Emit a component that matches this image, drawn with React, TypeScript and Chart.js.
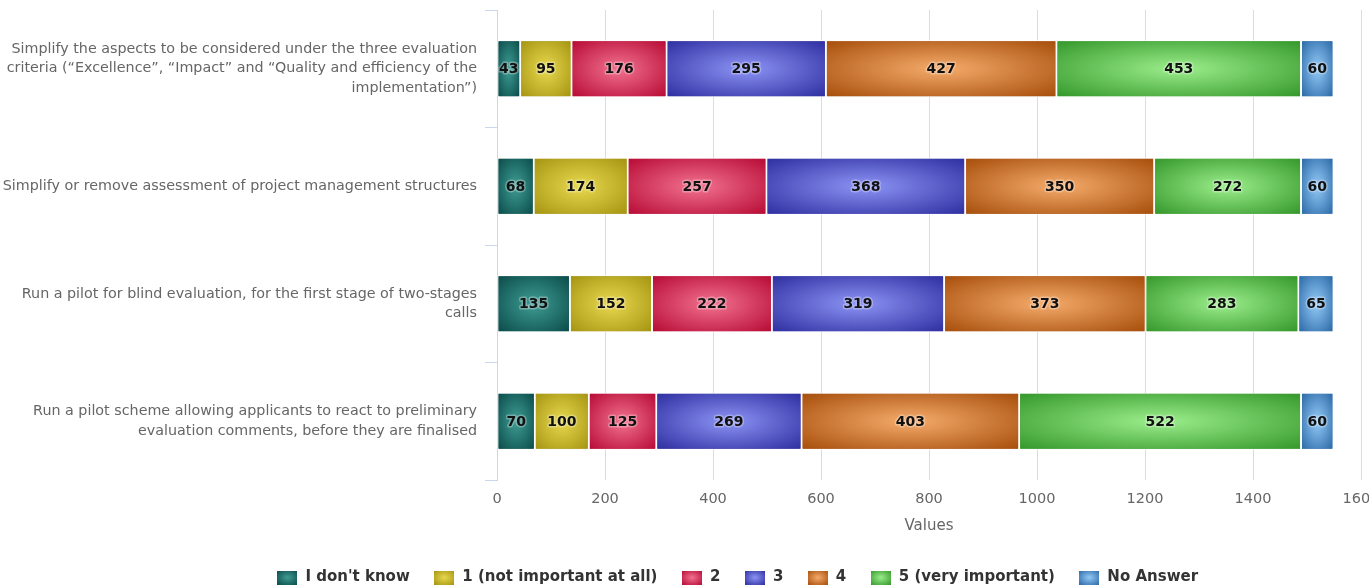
import React, { useEffect, useRef } from "react";
import { Chart, registerables } from "chart.js";

Chart.register(...registerables);

const FONT = "'DejaVu Sans', sans-serif";

const categories: (string | string[])[] = [
  [
    "Simplify the aspects to be considered under the three evaluation",
    "criteria (“Excellence”, “Impact” and “Quality and efficiency of the",
    "implementation”)",
  ],
  "Simplify or remove assessment of project management structures",
  ["Run a pilot for blind evaluation, for the first stage of two-stages", "calls"],
  [
    "Run a pilot scheme allowing applicants to react to preliminary",
    "evaluation comments, before they are finalised",
  ],
];

const seriesNames = [
  "I don't know",
  "1 (not important at all)",
  "2",
  "3",
  "4",
  "5 (very important)",
  "No Answer",
];

const dontKnow = [43, 68, 135, 70];
const notImportant = [95, 174, 152, 100];
const two = [176, 257, 222, 125];
const three = [295, 368, 319, 269];
const four = [427, 350, 373, 403];
const veryImportant = [453, 272, 283, 522];
const noAnswer = [60, 60, 65, 60];

const seriesValues = [dontKnow, notImportant, two, three, four, veryImportant, noAnswer];

const xMin = 0;
const xMax = 1600;
const xStep = 200;

const palette = [
  { dark: "#0b4d4b", light: "#3f9d94" },
  { dark: "#a59512", light: "#e9d94f" },
  { dark: "#b80c36", light: "#f27290" },
  { dark: "#3030a2", light: "#8c94f4" },
  { dark: "#a84f0c", light: "#f5ac6c" },
  { dark: "#36992c", light: "#9cee8c" },
  { dark: "#2c6aa8", light: "#94caf7" },
];

function fillGloss(
  ctx: CanvasRenderingContext2D,
  left: number,
  top: number,
  w: number,
  h: number,
  pal: { dark: string; light: string }
) {
  ctx.save();
  ctx.beginPath();
  ctx.rect(left, top, w, h);
  ctx.clip();
  ctx.translate(left + w / 2, top + h / 2);
  ctx.scale(w / 2, h / 2);
  const g = ctx.createRadialGradient(0, 0, 0, 0, 0, 1.4);
  g.addColorStop(0, pal.light);
  g.addColorStop(1, pal.dark);
  ctx.fillStyle = g;
  ctx.fillRect(-1, -1, 2, 2);
  ctx.restore();
}

function makeSwatch(pal: { dark: string; light: string }) {
  const c = document.createElement("canvas");
  c.width = 20;
  c.height = 14;
  const cx = c.getContext("2d")!;
  fillGloss(cx, 0, 0, 20, 14, pal);
  return c;
}

const LEGEND_SHIFT = 57;

export default function App() {
  const ref = useRef<HTMLCanvasElement>(null);

  useEffect(() => {
    document.body.style.margin = "0";
    document.body.style.overflow = "hidden";
    const canvas = ref.current!;
    const swatches = palette.map((p) => makeSwatch(p));

    const glossPlugin = {
      id: "glossBars",
      afterDatasetsDraw(chart: any) {
        const ctx: CanvasRenderingContext2D = chart.ctx;
        ctx.save();
        chart.data.datasets.forEach((ds: any, di: number) => {
          const meta = chart.getDatasetMeta(di);
          if (meta.hidden) return;
          meta.data.forEach((el: any) => {
            const { x, y, base, height } = el.getProps(["x", "y", "base", "height"], true);
            const left = Math.min(x, base);
            const right = Math.max(x, base);
            const top = y - height / 2;
            const w = right - left;
            if (w - 2 <= 0) return;
            fillGloss(ctx, left + 1, top + 1, w - 2, height - 2, palette[di]);
          });
        });
        ctx.font = `bold 14px ${FONT}`;
        ctx.textAlign = "center";
        ctx.textBaseline = "middle";
        ctx.lineJoin = "round";
        chart.data.datasets.forEach((ds: any, di: number) => {
          const meta = chart.getDatasetMeta(di);
          if (meta.hidden) return;
          meta.data.forEach((el: any, i: number) => {
            const { x, y, base } = el.getProps(["x", "y", "base"], true);
            const cx = (x + base) / 2;
            const txt = String(ds.data[i]);
            ctx.strokeStyle = "rgba(255,255,255,0.3)";
            ctx.lineWidth = 3;
            ctx.strokeText(txt, cx, y + 1);
            ctx.fillStyle = "#111111";
            ctx.fillText(txt, cx, y + 1);
          });
        });
        ctx.restore();
      },
      afterLayout(chart: any) {
        if (chart.legend) {
          chart.legend.left += LEGEND_SHIFT;
          chart.legend.right += LEGEND_SHIFT;
        }
      },
    };

    const chart = new Chart(canvas, {
      type: "bar",
      data: {
        labels: categories,
        datasets: seriesNames.map((name, i) => ({
          label: name,
          data: seriesValues[i],
          backgroundColor: palette[i].dark,
          borderColor: "#ffffff",
          borderWidth: 1,
          borderSkipped: false,
          barPercentage: 0.485,
          categoryPercentage: 1,
        })),
      },
      options: {
        indexAxis: "y",
        animation: false,
        responsive: true,
        maintainAspectRatio: false,
        devicePixelRatio: 1,
        layout: { padding: { top: 10, right: 8, bottom: -9, left: 0 } },
        scales: {
          x: {
            stacked: true,
            min: xMin,
            max: xMax,
            ticks: {
              stepSize: xStep,
              color: "#666666",
              font: { family: FONT, size: 14.5 },
              padding: 11,
              maxRotation: 0,
              autoSkip: false,
              callback: (v: any) => String(v),
            },
            grid: { color: "#dcdcdc", drawTicks: false },
            border: { display: false },
            title: {
              display: true,
              text: "Values",
              color: "#666666",
              font: { family: FONT, size: 15 },
              padding: { top: 0, bottom: 11 },
            },
            afterFit(scale: any) {
              scale.paddingLeft = 0;
              scale.paddingRight = 0;
              scale.height = 66;
            },
          },
          y: {
            stacked: true,
            grid: {
              drawOnChartArea: false,
              drawTicks: true,
              tickLength: 12,
              color: "#ccd6eb",
              offset: true,
            },
            border: { display: true, color: "#ccd6eb" },
            ticks: {
              color: "#666666",
              font: { family: FONT, size: 14.3, lineHeight: 1.36 },
              padding: 8,
              autoSkip: false,
            },
            afterFit(scale: any) {
              scale.width = 497;
              scale.paddingTop = 0;
              scale.paddingBottom = 0;
            },
          },
        },
        plugins: {
          tooltip: { enabled: false },
          legend: {
            position: "bottom",
            labels: {
              usePointStyle: true,
              pointStyleWidth: 21,
              padding: 24,
              color: "#333333",
              font: { family: FONT, size: 15, weight: "bold" },
              generateLabels(ch: any) {
                return ch.data.datasets.map((ds: any, i: number) => ({
                  text: ds.label,
                  fillStyle: palette[i].dark,
                  strokeStyle: palette[i].dark,
                  lineWidth: 0,
                  pointStyle: swatches[i],
                  hidden: !ch.isDatasetVisible(i),
                  datasetIndex: i,
                  fontColor: "#333333",
                }));
              },
            },
          },
        },
      },
      plugins: [glossPlugin],
    } as any);

    return () => {
      chart.destroy();
    };
  }, []);

  return (
    <div style={{ position: "relative", width: "1369px", height: "586px", overflow: "hidden", background: "#ffffff" }}>
      <canvas ref={ref} />
    </div>
  );
}
